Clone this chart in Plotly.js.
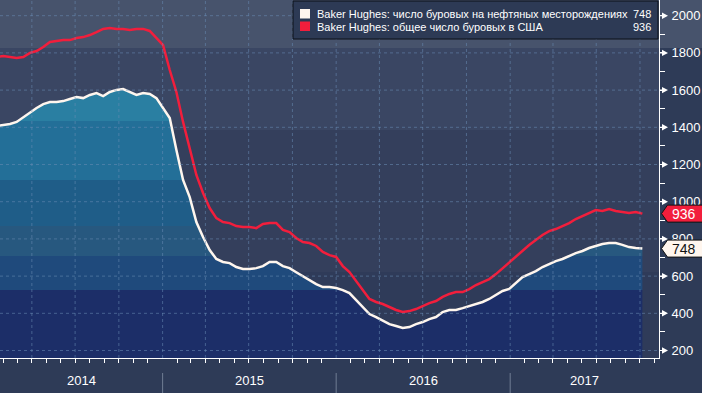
<!DOCTYPE html>
<html><head><meta charset="utf-8">
<script src="https://cdn.plot.ly/plotly-3.0.1.min.js"></script>
<style>html,body{margin:0;padding:0;background:#2e3b57;}#chart{width:702px;height:393px;}</style>
</head><body><div id="chart"></div>
<script>
// ---- data (weekly Baker Hughes, sampled every two weeks) ----
const dates = [
 '2014-01-17','2014-01-31','2014-02-14','2014-02-28','2014-03-14','2014-03-28','2014-04-11','2014-04-25','2014-05-09','2014-05-23',
 '2014-06-06','2014-06-20','2014-07-04','2014-07-18','2014-08-01','2014-08-15','2014-08-29','2014-09-12','2014-09-26','2014-10-10',
 '2014-10-24','2014-11-07','2014-11-21','2014-12-05','2014-12-19',
 '2015-01-02','2015-01-16','2015-01-30','2015-02-13','2015-02-27','2015-03-13','2015-03-27','2015-04-10','2015-04-24','2015-05-08',
 '2015-05-22','2015-06-05','2015-06-19','2015-07-03','2015-07-17','2015-07-31','2015-08-14','2015-08-28','2015-09-11','2015-09-25',
 '2015-10-09','2015-10-23','2015-11-06','2015-11-20','2015-12-04','2015-12-18',
 '2016-01-01','2016-01-15','2016-01-29','2016-02-12','2016-02-26','2016-03-11','2016-03-25','2016-04-08','2016-04-22','2016-05-06',
 '2016-05-20','2016-06-03','2016-06-17','2016-07-01','2016-07-15','2016-07-29','2016-08-12','2016-08-26','2016-09-09','2016-09-23',
 '2016-10-07','2016-10-21','2016-11-04','2016-11-18','2016-12-02','2016-12-16','2016-12-30',
 '2017-01-13','2017-01-27','2017-02-10','2017-02-24','2017-03-10','2017-03-24','2017-04-07','2017-04-21','2017-05-05','2017-05-19',
 '2017-06-02','2017-06-16','2017-06-30','2017-07-14','2017-07-28','2017-08-11','2017-08-25','2017-09-08','2017-09-22','2017-10-06'
];
const oilRigs = [
 1407,1412,1418,1429,1455,1482,1504,1525,1536,1536,
 1541,1552,1563,1557,1574,1584,1568,1590,1601,1606,
 1590,1574,1584,1579,1557,1504,1450,1278,1117,1025,
 891,810,740,692,676,670,649,638,638,643,
 654,676,676,654,643,621,600,579,557,541,
 541,536,525,509,471,434,396,380,359,342,
 332,321,326,342,353,369,380,407,418,418,
 428,439,450,461,477,498,520,531,563,595,
 611,627,649,665,681,692,708,724,735,751,
 762,773,778,778,768,756,751,748
];
const totalRigs = [
 1778,1783,1778,1773,1778,1800,1810,1832,1859,1864,
 1869,1869,1880,1885,1896,1912,1929,1934,1929,1929,
 1923,1929,1929,1918,1880,1842,1708,1590,1429,1278,
 1144,1047,966,912,891,885,869,864,864,858,
 880,885,885,848,837,805,783,778,762,730,
 713,703,654,622,574,520,477,461,450,434,
 418,407,412,423,439,455,466,488,504,514,
 514,530,552,568,584,611,643,670,703,735,
 767,794,821,842,853,869,885,907,923,939,
 955,950,961,950,945,939,945,936
];
const seriesNames = ['Baker Hughes: число буровых на нефтяных месторождениях','Baker Hughes: общее число буровых в США'];
const yTicks = [200,400,600,800,1000,1200,1400,1600,1800,2000];
const yearLabels = ['2014','2015','2016','2017'];
const yearStarts = ['2014-01-01','2015-01-01','2016-01-01','2017-01-01','2018-01-01'];
const quarterMonths = ['01','04','07','10'];

// ---- geometry / style ----
const W=702,H=393,R=43,B=35;
const PW=W-R, PH=H-B;
const xRange=['2014-01-24','2017-11-10'];
const yRange=[159.8,2084.4];
const vpp=(yRange[1]-yRange[0])/PH;
const px=p=>p/PW, py=p=>(PH-p)/PH;
const FONT='Liberation Sans, Arial, sans-serif';
const WHITE='#fff6ee', RED='#f21e3c';
const GRID='rgba(105,140,180,0.55)';

const shapes=[];
// background bands
shapes.push({type:'rect',layer:'below',xref:'paper',yref:'paper',x0:-0.01,x1:W/PW+0.01,y0:py(48),y1:1.01,fillcolor:'#47536c',line:{width:0}});
[[1386,1826,'#3a4663'],[622,1386,'#343f5c'],[yRange[0],622,'#2f3b59']].forEach(b=>{
  shapes.push({type:'rect',layer:'below',xref:'paper',yref:'y',x0:0,x1:1,y0:b[0],y1:b[1],fillcolor:b[2],line:{width:0}});
});
// grid (drawn over the area fill)
yTicks.forEach(v=>shapes.push({type:'line',layer:'above',xref:'paper',yref:'y',x0:0,x1:1,y0:v,y1:v,line:{color:GRID,width:1,dash:'3px,3px'}}));
const t0=Date.parse(xRange[0]), t1=Date.parse(xRange[1]);
yearStarts.slice(0,4).forEach(ys=>{
  quarterMonths.forEach(m=>{
    const d=ys.slice(0,4)+'-'+m+'-01', t=Date.parse(d);
    if(t>t0 && t<t1) shapes.push({type:'line',layer:'above',xref:'x',yref:'paper',x0:d,x1:d,y0:0,y1:1,line:{color:GRID,width:1,dash:'3px,3px'}});
  });
});
// year separators below axis
yearStarts.forEach(ys=>{
  const t=Date.parse(ys);
  if(t>t0 && t<t1) shapes.push({type:'line',xref:'x',yref:'paper',x0:ys,x1:ys,y0:py(373),y1:py(394),line:{color:'#707d94',width:1}});
});
// right axis arrow ticks
yTicks.forEach(v=>{
  shapes.push({type:'path',layer:'above',xref:'paper',yref:'y',
    path:`M ${px(659.5)},${v-0.6*vpp} L ${px(662)},${v-0.6*vpp} L ${px(662)},${v-3.2*vpp} L ${px(668)},${v} L ${px(662)},${v+3.2*vpp} L ${px(662)},${v+0.6*vpp} L ${px(659.5)},${v+0.6*vpp} Z`,
    fillcolor:'#ffffff',line:{width:0}});
});
// end-value tags
const lastOil=oilRigs[oilRigs.length-1], lastTot=totalRigs[totalRigs.length-1];
function tag(v,fill){
  const h=8.5*vpp;
  shapes.push({type:'path',layer:'above',xref:'paper',yref:'y',
    path:`M ${px(661.5)},${v} L ${px(667.5)},${v+h} L ${px(703)},${v+h} L ${px(703)},${v-h} L ${px(667.5)},${v-h} Z`,
    fillcolor:fill,line:{color:'#111111',width:1}});
}
tag(lastTot,RED); tag(lastOil,WHITE);
// legend box
shapes.push({type:'rect',layer:'above',xref:'paper',yref:'paper',x0:px(293),x1:px(658),y0:py(39),y1:py(1),fillcolor:'#2d3a55',line:{color:'#0c1018',width:1}});
shapes.push({type:'rect',layer:'above',xref:'paper',yref:'paper',x0:px(300),x1:px(310),y0:py(18.5),y1:py(9),fillcolor:WHITE,line:{width:0}});
shapes.push({type:'rect',layer:'above',xref:'paper',yref:'paper',x0:px(300),x1:px(310),y0:py(31),y1:py(21.5),fillcolor:RED,line:{width:0}});

const annotations=[];
const lf={family:FONT,size:11,color:'#ffffff'};
annotations.push({xref:'paper',yref:'paper',x:px(315),y:py(14),xanchor:'left',yanchor:'middle',text:seriesNames[0],showarrow:false,font:lf});
annotations.push({xref:'paper',yref:'paper',x:px(315),y:py(27),xanchor:'left',yanchor:'middle',text:seriesNames[1],showarrow:false,font:lf});
annotations.push({xref:'paper',yref:'paper',x:px(653),y:py(14),xanchor:'right',yanchor:'middle',text:String(lastOil),showarrow:false,font:lf});
annotations.push({xref:'paper',yref:'paper',x:px(653),y:py(27),xanchor:'right',yanchor:'middle',text:String(lastTot),showarrow:false,font:lf});
annotations.push({xref:'paper',yref:'y',x:px(684),y:lastTot,xanchor:'center',yanchor:'middle',text:String(lastTot),showarrow:false,font:{family:FONT,size:14,color:'#ffffff'}});
annotations.push({xref:'paper',yref:'y',x:px(684),y:lastOil,xanchor:'center',yanchor:'middle',text:String(lastOil),showarrow:false,font:{family:FONT,size:14,color:'#111111'}});
// year labels centred on the visible part of each year
yearLabels.forEach((yl,i)=>{
  const a=Math.max(Date.parse(yearStarts[i]),t0), b=Math.min(Date.parse(yearStarts[i+1]),t1);
  const mid=new Date((a+b)/2).toISOString().slice(0,10);
  annotations.push({xref:'x',yref:'paper',x:mid,y:py(381),xanchor:'center',yanchor:'middle',text:yl,showarrow:false,font:{family:FONT,size:13,color:'#ffffff'}});
});

// area fill bands
const bandEdges=[525,708,870,1117,1434];
const bandColors=['#1c2e68','#1f4a7c','#27587f','#1f5d88','#236f98','#2a7fa2'];
const gStart=yRange[0], gStop=2100;
const cs=[[0,bandColors[0]]];
bandEdges.forEach((e,i)=>{const f=(e-gStart)/(gStop-gStart); cs.push([f,bandColors[i]]); cs.push([f,bandColors[i+1]]);});
cs.push([1,bandColors[bandColors.length-1]]);

const traces=[
 {x:dates,y:oilRigs,type:'scatter',mode:'lines',name:seriesNames[0],line:{color:WHITE,width:2.5},
  fill:'tozeroy',fillgradient:{type:'vertical',start:gStart,stop:gStop,colorscale:cs},hoverinfo:'skip'},
 {x:dates,y:totalRigs,type:'scatter',mode:'lines',name:seriesNames[1],line:{color:RED,width:2.5},hoverinfo:'skip'}
];

const layout={
  width:W,height:H,margin:{l:0,r:R,t:0,b:B,pad:0},
  paper_bgcolor:'#2e3b57',plot_bgcolor:'rgba(0,0,0,0)',showlegend:false,
  xaxis:{type:'date',range:xRange,showgrid:false,zeroline:false,showline:true,linecolor:'#ffffff',linewidth:1,
    ticks:'',showticklabels:false,dtick:'M12',tick0:'2014-01-01',
    minor:{dtick:'M1',tick0:'2014-01-01',ticks:'outside',ticklen:4,tickcolor:'#ffffff',tickwidth:1,showgrid:false}},
  yaxis:{side:'right',range:yRange,showgrid:false,zeroline:false,showline:true,linecolor:'#ffffff',linewidth:1,
    tickmode:'array',tickvals:yTicks,ticktext:yTicks.map(String),ticks:'outside',ticklen:9,tickcolor:'rgba(0,0,0,0)',
    tickfont:{family:FONT,size:13,color:'#ffffff'},
    minor:{dtick:100,tick0:100,ticks:'outside',ticklen:5,tickcolor:'#ffffff',tickwidth:1,showgrid:false}},
  shapes:shapes,annotations:annotations
};
Plotly.newPlot('chart',traces,layout,{staticPlot:true,displayModeBar:false});
</script></body></html>
